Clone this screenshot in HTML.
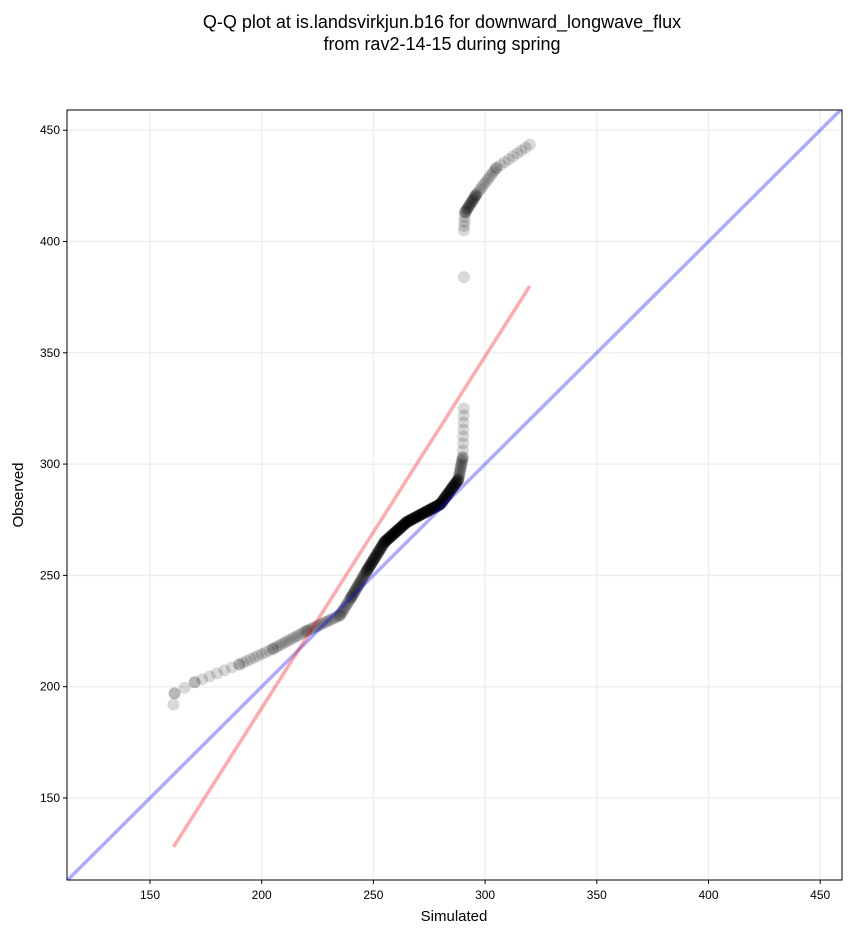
<!DOCTYPE html>
<html><head><meta charset="utf-8"><style>
body{margin:0;background:#fff;}
svg text{font-family:"Liberation Sans",sans-serif;}
</style></head><body>
<svg id="s" width="851" height="934" xmlns="http://www.w3.org/2000/svg">
<text x="442" y="28" font-size="18" text-anchor="middle">Q-Q plot at is.landsvirkjun.b16 for downward_longwave_flux</text>
<text x="442" y="50" font-size="18" text-anchor="middle">from rav2-14-15 during spring</text>
<defs><clipPath id="c"><rect x="67" y="110" width="775" height="770"/></clipPath></defs>
<g id="grid" stroke="#efefef" stroke-width="1.5"></g>
<g id="pts" clip-path="url(#c)"></g>
<g id="lines" clip-path="url(#c)"></g>
<rect x="67" y="110" width="775" height="770" fill="none" stroke="#000" stroke-width="1"/>
<g id="ticks" font-size="12"></g>
<text x="454" y="921" font-size="15" text-anchor="middle">Simulated</text>
<text x="23" y="495" font-size="15" text-anchor="middle" transform="rotate(-90 23 495)">Observed</text>
</svg>
<script>
var NS="http://www.w3.org/2000/svg";
function X(v){return 150+(v-150)*2.234;}
function Y(v){return 798-(v-150)*2.226;}
function el(p,t,a){var e=document.createElementNS(NS,t);for(var k in a)e.setAttribute(k,a[k]);document.getElementById(p).appendChild(e);return e;}
[150,200,250,300,350,400,450].forEach(function(v){
 el("grid","line",{x1:X(v),x2:X(v),y1:110,y2:880});
 el("grid","line",{x1:67,x2:842,y1:Y(v),y2:Y(v)});
 el("ticks","line",{x1:X(v),x2:X(v),y1:880,y2:884,stroke:"#000"});
 el("ticks","line",{x1:63,x2:67,y1:Y(v),y2:Y(v),stroke:"#000"});
 var t=el("ticks","text",{x:X(v),y:899,"text-anchor":"middle"});t.textContent=v;
 var u=el("ticks","text",{x:60,y:Y(v)+4,"text-anchor":"end"});u.textContent=v;
});
var segs=[[[160.5,192],[161,197],2],[[161,197],[170,202],3],[[170,202],[190,210],7],[[190,210],[205,217],10],[[205,217],[220,225],14],[[220,225],[235,232],16],[[235,232],[240,240],12],[[240,240],[247,252],25],[[247,252],[255,265],45],[[255,265],[265,274],60],[[265,274],[280,282],80],[[280,282],[288,293],50],[[288,293],[290,303],14],[[290,303],[290.5,325],8],[[290.5,384],[290.5,384],1],[[290.5,405],[291,413],5],[[291,413],[296,421],18],[[296,421],[305,433],12],[[305,433],[320,443.5],9]];
segs.forEach(function(s){var a=s[0],b=s[1],n=s[2];for(var i=0;i<n;i++){var f=n>1?i/(n-1):0;
 el("pts","circle",{cx:X(a[0]+(b[0]-a[0])*f),cy:Y(a[1]+(b[1]-a[1])*f),r:6,fill:"#000","fill-opacity":0.15});}});
el("lines","line",{x1:X(100),y1:Y(100),x2:X(470),y2:Y(470),stroke:"#0000ff","stroke-opacity":0.33,"stroke-width":3.5});
el("lines","line",{x1:X(160.5),y1:Y(128),x2:X(320),y2:Y(380),stroke:"#ff0000","stroke-opacity":0.33,"stroke-width":3.5});
</script>
</body></html>
